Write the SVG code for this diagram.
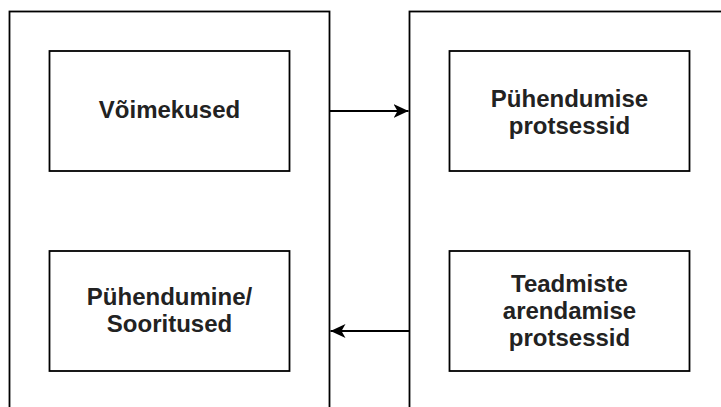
<svg xmlns="http://www.w3.org/2000/svg" width="721" height="407" viewBox="0 0 721 407">
<style>
.box{fill:#fff;stroke:#000;stroke-width:1.8}
.lbl{font-family:"Liberation Sans",Arial,sans-serif;font-size:24px;font-weight:bold;fill:#222;text-anchor:middle}
.conn{stroke:#000;stroke-width:1.8;fill:none}
</style>
<defs>
<marker id="arr" markerUnits="userSpaceOnUse" markerWidth="18" markerHeight="16" refX="15" refY="7" orient="auto">
<path d="M0,0 L15,7 L0,14 L4,7 Z" fill="#000"/>
</marker>
</defs>
<rect width="721" height="407" fill="#fff"/>
<g id="left-container"><rect class="box" x="9.5" y="11.5" width="320" height="420"/></g>
<g id="right-container"><rect class="box" x="409.5" y="11.5" width="340" height="420"/></g>
<g id="voimekused"><rect class="box" x="49.5" y="51" width="240" height="120"/><text class="lbl" x="169.5" y="118">Võimekused</text></g>
<g id="puhendumise-protsessid"><rect class="box" x="449.5" y="51" width="240" height="120"/><text class="lbl" x="569.5" y="107">Pühendumise<tspan x="569.5" dy="27">protsessid</tspan></text></g>
<g id="puhendumine-sooritused"><rect class="box" x="49.5" y="251" width="240" height="120"/><text class="lbl" x="169.5" y="305">Pühendumine/<tspan x="169.5" dy="27">Sooritused</tspan></text></g>
<g id="teadmiste-arendamise"><rect class="box" x="449.5" y="251" width="240" height="120"/><text class="lbl" x="569.5" y="291.5">Teadmiste<tspan x="569.5" dy="27">arendamise</tspan><tspan x="569.5" dy="27">protsessid</tspan></text></g>
<g id="connectors">
<line class="conn" x1="329.5" y1="111" x2="408.5" y2="111" marker-end="url(#arr)"/>
<line class="conn" x1="409.5" y1="331" x2="330.5" y2="331" marker-end="url(#arr)"/>
</g>
</svg>
